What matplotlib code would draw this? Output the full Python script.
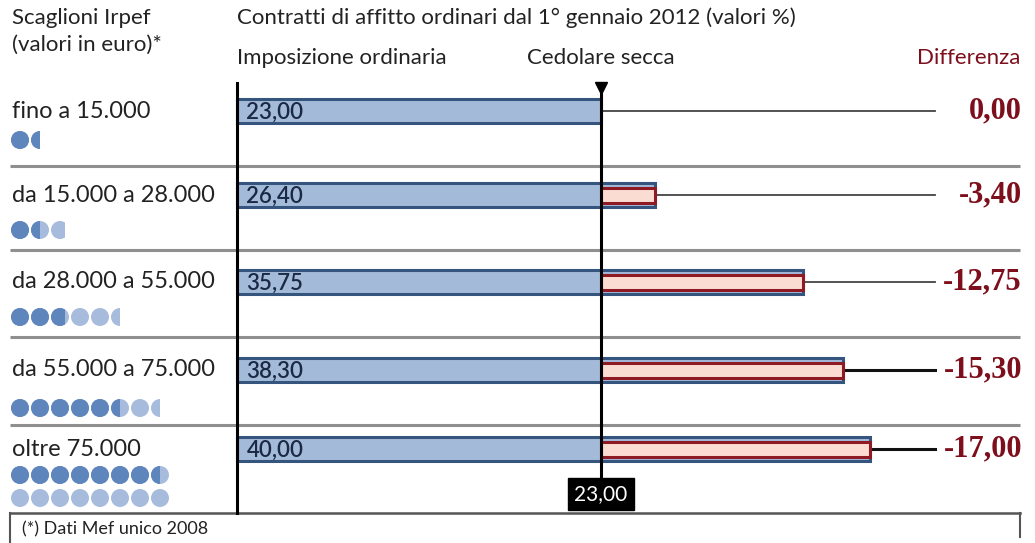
"""
Cedolare secca vs imposizione ordinaria per scaglione Irpef.
"""
import numpy as np
import matplotlib
matplotlib.use('Agg')
import matplotlib.pyplot as plt
from matplotlib.patches import Ellipse, Rectangle

# data
brackets = ['fino a 15.000', 'da 15.000 a 28.000', 'da 28.000 a 55.000',
            'da 55.000 a 75.000', 'oltre 75.000']
ordinaria = [23.00, 26.40, 35.75, 38.30, 40.00]
cedolare = 23.00
differenza = [0.00, -3.40, -12.75, -15.30, -17.00]
# income icons: one dot = 10.000 euro (dark = lower bound, light = upper)
dots_dark = [1.5, 1.5, 2.8, 5.5, 7.5]
dots_total = [1.5, 2.8, 5.5, 7.5, 16.0]

# layout (pixels)
W, H = 1035, 543
X0 = 237          # pixel where 0% sits
PX = 15.83        # pixels per percentage point
row_y = np.array([111, 195, 282, 370, 449])
dot_off = [29, 35, 35, 38, 26]

SANS = ['Lato', 'DejaVu Sans']
TXT = '#222222'
RED = '#7d0f1c'
DARK_DOT = '#5f85bd'
LIGHT_DOT = '#a7bcdd'


def it_fmt(v):
    return f'{v:.2f}'.replace('.', ',')


def px(x):
    # pixel column -> data x
    return (x - X0) / PX


plt.rcParams['font.family'] = SANS
fig = plt.figure(figsize=(W / 100, H / 100), dpi=100)
ax = fig.add_axes([0, 0, 1, 1])
ax.set_xlim(px(0), px(W))
ax.set_ylim(H, 0)
ax.axis('off')

# headers
ax.text(px(12), 18, 'Scaglioni Irpef', fontsize=16, color=TXT, va='center')
ax.text(px(12), 45, '(valori in euro)*', fontsize=16, color=TXT, va='center')
ax.text(0, 18, 'Contratti di affitto ordinari dal 1° gennaio 2012 (valori %)',
        fontsize=16, color=TXT, va='center')
ax.text(0, 58, 'Imposizione ordinaria', fontsize=16, color=TXT, va='center')
ax.text(cedolare, 58, 'Cedolare secca', fontsize=16, color=TXT,
        va='center', ha='center')
ax.text(px(1020), 58, 'Differenza', fontsize=16, color=RED,
        va='center', ha='right')

# row separators and bottom box
for y in row_y[:-1]:
    ax.plot([px(10), px(1020)], [y + 55, y + 55], color='#8f8f8f', lw=2.2,
            solid_capstyle='butt', zorder=1)
ax.plot([px(10), px(1020)], [513, 513], color='#555555', lw=1.8, zorder=1)
ax.plot([px(10), px(10)], [513, H], color='#555555', lw=1.5)
ax.plot([px(1020), px(1020)], [513, 537], color='#555555', lw=1.5)
ax.text(px(22), 529, '(*) Dati Mef unico 2008', fontsize=13, color=TXT,
        va='center')

# bars
ax.barh(row_y, ordinaria, height=24, left=0, color='#a4bad9',
        edgecolor='#35557f', linewidth=2.2, zorder=3)
extra = np.array(ordinaria) - cedolare
m = extra > 0
ax.barh(row_y[m], extra[m], height=15, left=cedolare, color='#fbdcd2',
        edgecolor='#8e1b24', linewidth=2.2, zorder=4)

for y, v in zip(row_y, ordinaria):
    ax.text(0.6, y + 1, it_fmt(v), fontsize=16, color='#1b2a44',
            weight='semibold', va='center', ha='left', zorder=5)

# connectors + differences
for i, (y, v, d) in enumerate(zip(row_y, ordinaria, differenza)):
    lw, col = (1.3, '#444444') if i < 3 else (2.2, '#111111')
    ax.plot([v, px(935)], [y, y], color=col, lw=lw, zorder=2)
    ax.text(px(1022), y, it_fmt(d), fontsize=22, family='Liberation Serif',
            weight='bold', color=RED, va='center', ha='right')

# axis lines
ax.plot([0, 0], [83, 513], color='black', lw=2.2, zorder=6)
ax.plot([cedolare, cedolare], [88, 485], color='black', lw=2.2, zorder=6)
ax.plot([cedolare], [88], marker='v', color='black', markersize=9, zorder=7)
ax.text(cedolare, 494, it_fmt(cedolare), fontsize=15, color='white',
        ha='center', va='center', zorder=8,
        bbox=dict(boxstyle='square,pad=0.3', fc='black', ec='black'))

# row labels and dot icons
d = 18
for y, lab, off, dk, tot in zip(row_y, brackets, dot_off, dots_dark, dots_total):
    ax.text(px(12), y, lab, fontsize=17, color=TXT, va='center')
    for k in range(int(np.ceil(tot))):
        cx = 20 + (k % 8) * 20
        cy = y + off + (k // 8) * 23
        for frac, col in ((min(tot - k, 1), LIGHT_DOT),
                          (np.clip(dk - k, 0, 1), DARK_DOT)):
            if frac <= 0:
                continue
            e = Ellipse((px(cx), cy), d / PX, d, color=col, lw=0)
            ax.add_patch(e)
            clip = Rectangle((px(cx - d / 2), cy - d / 2), frac * d / PX, d,
                             transform=ax.transData)
            e.set_clip_path(clip)

fig.savefig('out.png', dpi=100)
